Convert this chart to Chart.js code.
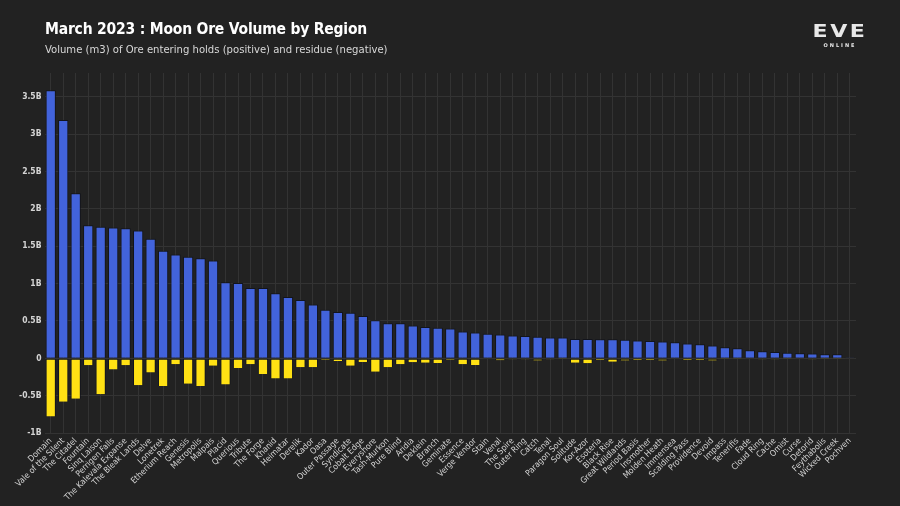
<!DOCTYPE html>
<html>
<head>
<meta charset="utf-8">
<script src="https://cdn.jsdelivr.net/npm/chart.js@4"></script>
<style>
  html, body { margin: 0; padding: 0; background: #222222; }
  #wrap { position: relative; width: 900px; height: 506px; overflow: hidden; }
  #chart { position: absolute; left: 0; top: 0; }
  .title { position: absolute; left: 45px; top: 20px; color: #ffffff; font: bold 15.5px 'DejaVu Sans Condensed', 'DejaVu Sans', sans-serif; letter-spacing: -0.2px; }
  .subtitle { position: absolute; left: 45px; top: 43px; color: #d8d8d8; font: 11.2px 'DejaVu Sans Condensed', 'DejaVu Sans', sans-serif; }
  .logo { position: absolute; left: 810px; top: 23px; width: 60px; text-align: center; color: #e8e8e8; }
  .logo .eve { font: bold 17px 'DejaVu Sans', sans-serif; letter-spacing: 2px; line-height: 17px; transform: scaleX(1.3); }
  .logo .online { font: bold 5px 'DejaVu Sans', sans-serif; letter-spacing: 2px; margin-top: 2px; }
</style>
</head>
<body>
<div id="wrap">
  <canvas id="chart" width="900" height="506"></canvas>
  <div class="title">March 2023 : Moon Ore Volume by Region</div>
  <div class="subtitle">Volume (m3) of Ore entering holds (positive) and residue (negative)</div>
  <div class="logo"><div class="eve">EVE</div><div class="online">ONLINE</div></div>
</div>
<script>
const regions = [
  'Domain', 'Vale of the Silent', 'The Citadel', 'Fountain', 'Sinq Laison', 'Perrigen Falls',
  'The Kalevala Expanse', 'The Bleak Lands', 'Delve', 'Lonetrek', 'Etherium Reach', 'Genesis',
  'Metropolis', 'Malpais', 'Placid', 'Querious', 'Tribute', 'The Forge', 'Khanid', 'Heimatar',
  'Derelik', 'Kador', 'Oasa', 'Outer Passage', 'Syndicate', 'Cobalt Edge', 'Everyshore',
  'Tash-Murkon', 'Pure Blind', 'Aridia', 'Deklein', 'Branch', 'Geminate', 'Essence',
  'Verge Vendor', 'Stain', 'Venal', 'The Spire', 'Outer Ring', 'Catch', 'Tenal', 'Paragon Soul',
  'Solitude', 'Kor-Azor', 'Esoteria', 'Black Rise', 'Great Wildlands', 'Period Basis',
  'Insmother', 'Molden Heath', 'Immensea', 'Scalding Pass', 'Providence', 'Devoid', 'Impass',
  'Tenerifis', 'Fade', 'Cloud Ring', 'Cache', 'Omist', 'Curse', 'Detorid', 'Feythabolis',
  'Wicked Creek', 'Pochven',
];

// billions of m3
const oreIn = [
  3.59, 3.19, 2.21, 1.78, 1.76, 1.75, 1.74, 1.71, 1.60, 1.44, 1.39, 1.36,
  1.34, 1.31, 1.02, 1.01, 0.94, 0.94, 0.87, 0.82, 0.78, 0.72, 0.65, 0.62,
  0.61, 0.565, 0.51, 0.47, 0.47, 0.44, 0.42, 0.41, 0.40, 0.36, 0.345, 0.33,
  0.32, 0.305, 0.30, 0.29, 0.28, 0.28, 0.26, 0.26, 0.256, 0.256, 0.25, 0.24,
  0.233, 0.224, 0.215, 0.197, 0.188, 0.17, 0.148, 0.135, 0.108, 0.094, 0.085, 0.076,
  0.067, 0.063, 0.054, 0.054, 0.003,
];

const residue = [
  -0.78, -0.58, -0.54, -0.094, -0.48, -0.15, -0.094, -0.36, -0.19, -0.37, -0.08, -0.34,
  -0.37, -0.10, -0.35, -0.13, -0.08, -0.21, -0.27, -0.27, -0.12, -0.12, -0.02, -0.036,
  -0.10, -0.05, -0.18, -0.12, -0.08, -0.054, -0.058, -0.063, -0.018, -0.08, -0.09, -0.009,
  -0.027, -0.013, -0.013, -0.03, -0.013, -0.003, -0.058, -0.067, -0.022, -0.045, -0.03, -0.022,
  -0.022, -0.03, -0.009, -0.022, -0.022, -0.03, -0.003, -0.004, -0.009, -0.013, -0.013, -0.002,
  -0.009, -0.013, -0.003, -0.004, -0.001,
];

const COLORS = {
  blue: '#4263db',
  yellow: '#ffe114',
  edge: '#12141c',
  grid: '#333333',
  tick: '#d4d4d4',
};

const FONT = "'DejaVu Sans Condensed', 'DejaVu Sans', sans-serif";

new Chart(document.getElementById('chart'), {
  type: 'bar',
  data: {
    labels: regions,
    datasets: [
      {
        label: 'Ore entering holds',
        data: oreIn,
        backgroundColor: COLORS.blue,
        borderColor: COLORS.edge,
        borderWidth: 1,
        borderSkipped: 'bottom',
        categoryPercentage: 1,
        barPercentage: 0.82,
      },
      {
        label: 'Residue',
        data: residue,
        backgroundColor: COLORS.yellow,
        borderColor: COLORS.edge,
        borderWidth: 1,
        borderSkipped: 'top',
        categoryPercentage: 1,
        barPercentage: 0.82,
      },
    ],
  },
  options: {
    responsive: false,
    animation: false,
    layout: { padding: { top: 73, left: 0, right: 44, bottom: 0 } },
    plugins: {
      legend: { display: false },
      tooltip: { enabled: false },
    },
    scales: {
      x: {
        stacked: true,
        grid: { color: COLORS.grid, offset: false, drawTicks: false },
        border: { display: false },
        afterFit: (s) => { s.height = 73; },
        ticks: {
          color: COLORS.tick,
          font: { family: FONT, size: 8.5 },
          autoSkip: false,
          minRotation: 45,
          maxRotation: 45,
          padding: 3,
        },
      },
      y: {
        stacked: true,
        min: -1,
        max: 3.82,
        grid: { color: COLORS.grid, drawTicks: false },
        border: { display: false },
        afterFit: (s) => { s.width = 44.5; },
        ticks: {
          stepSize: 0.5,
          includeBounds: false,
          color: COLORS.tick,
          font: { family: FONT, size: 8.5, weight: '600' },
          padding: 3,
          callback: (v) => {
            const r = Math.round(v * 10) / 10;
            return r === 0 ? '0' : `${r}B`;
          },
        },
      },
    },
  },
});
</script>
</body>
</html>
